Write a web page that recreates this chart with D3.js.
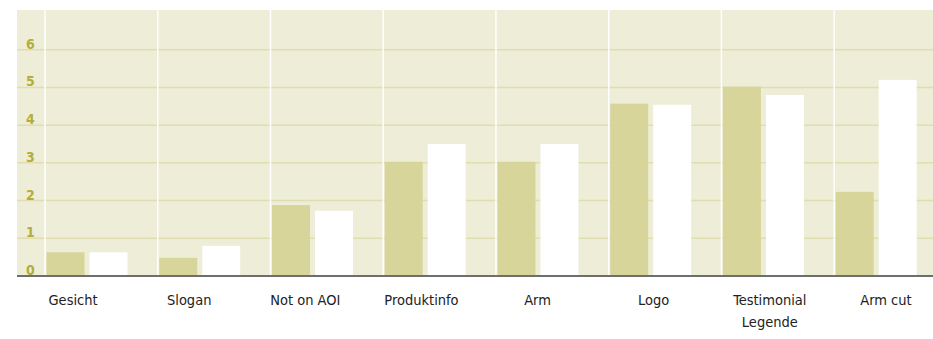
<!DOCTYPE html>
<html>
<head>
<meta charset="utf-8">
<script src="https://cdn.jsdelivr.net/npm/d3@7"></script>
<style>
  html, body { margin: 0; padding: 0; background: #ffffff; }
  svg { display: block; }
</style>
</head>
<body>
<svg id="chart" width="933" height="339"></svg>
<script>
// Categories (a "\n" marks a line break in the axis label)
const categories = ["Gesicht", "Slogan", "Not on AOI", "Produktinfo", "Arm", "Logo", "Testimonial\nLegende", "Arm cut"];
const seriesNames = ["A", "B"];
const seriesA = [0.63, 0.48, 1.88, 3.03, 3.03, 4.57, 5.02, 2.23];
const seriesB = [0.63, 0.80, 1.73, 3.50, 3.50, 4.54, 4.80, 5.20];
const yTicks = [0, 1, 2, 3, 4, 5, 6];

const colors = { A: "#d8d59b", B: "#ffffff" };
const W = 933, H = 339;
const plotLeft = 17, plotTop = 10, plotRight = 933, baseY = 276;

const svg = d3.select("#chart");

const y = d3.scaleLinear().domain([0, 7]).range([baseY, 12]);

// group bands for bars and separators
const step = 112.74;
const x = d3.scaleBand().domain(categories).range([45.5, 45.5 + step * categories.length]).paddingInner(0).paddingOuter(0);
// sub-band for the two series in each group
const x1 = d3.scaleBand().domain(seriesNames).range([1, 82]).paddingInner(5 / 43).paddingOuter(0);
// label positions
const xl = d3.scaleBand().domain(categories).range([15, 944]);

svg.append("defs").append("clipPath").attr("id", "plotclip")
  .append("rect").attr("x", plotLeft).attr("y", 0).attr("width", plotRight - plotLeft).attr("height", H);

// background
svg.append("rect")
  .attr("x", plotLeft).attr("y", plotTop)
  .attr("width", plotRight - plotLeft).attr("height", baseY - plotTop)
  .attr("fill", "#eeedd7");

// horizontal gridlines
svg.append("g").selectAll("line")
  .data(yTicks.filter(d => d > 0))
  .join("line")
  .attr("x1", plotLeft).attr("x2", plotRight)
  .attr("y1", d => y(d)).attr("y2", d => y(d))
  .attr("stroke", "#e0deb1").attr("stroke-width", 1.5);

// vertical white separators between groups
svg.append("g").selectAll("line")
  .data(categories)
  .join("line")
  .attr("x1", d => x(d) - 0.5).attr("x2", d => x(d) - 0.5)
  .attr("y1", plotTop).attr("y2", baseY)
  .attr("stroke", "#ffffff").attr("stroke-width", 1.5);

// bars
const rows = categories.map((c, i) => ({ cat: c, values: [{ key: "A", v: seriesA[i] }, { key: "B", v: seriesB[i] }] }));
svg.append("g").attr("clip-path", "url(#plotclip)")
  .selectAll("g").data(rows).join("g")
  .attr("transform", d => `translate(${x(d.cat)},0)`)
  .selectAll("rect").data(d => d.values).join("rect")
  .attr("x", d => x1(d.key))
  .attr("width", x1.bandwidth())
  .attr("y", d => y(d.v))
  .attr("height", d => y(0) - y(d.v))
  .attr("fill", d => colors[d.key]);

// baseline
svg.append("line")
  .attr("x1", plotLeft).attr("x2", plotRight)
  .attr("y1", baseY).attr("y2", baseY)
  .attr("stroke", "#6e6e6e").attr("stroke-width", 2);

// y tick labels
svg.append("g").selectAll("text")
  .data(yTicks)
  .join("text")
  .attr("x", 26)
  .attr("y", d => y(d) - 1)
  .attr("font-family", "'DejaVu Sans Condensed', 'DejaVu Sans', sans-serif")
  .attr("font-weight", "bold")
  .attr("font-size", 14)
  .attr("fill", "#b2ad3c")
  .text(d => d);

// category labels
const lbl = svg.append("g").selectAll("text")
  .data(categories)
  .join("text")
  .attr("x", d => xl(d) + xl.bandwidth() / 2)
  .attr("y", 305)
  .attr("text-anchor", "middle")
  .attr("font-family", "'DejaVu Sans Condensed', 'DejaVu Sans', sans-serif")
  .attr("font-size", 14.5)
  .attr("fill", "#222222");
lbl.each(function(d) {
  const parts = d.split("\n");
  d3.select(this).selectAll("tspan").data(parts).join("tspan")
    .attr("x", xl(d) + xl.bandwidth() / 2)
    .attr("dy", (p, i) => i === 0 ? 0 : 21.5)
    .text(p => p);
});
</script>
</body>
</html>
